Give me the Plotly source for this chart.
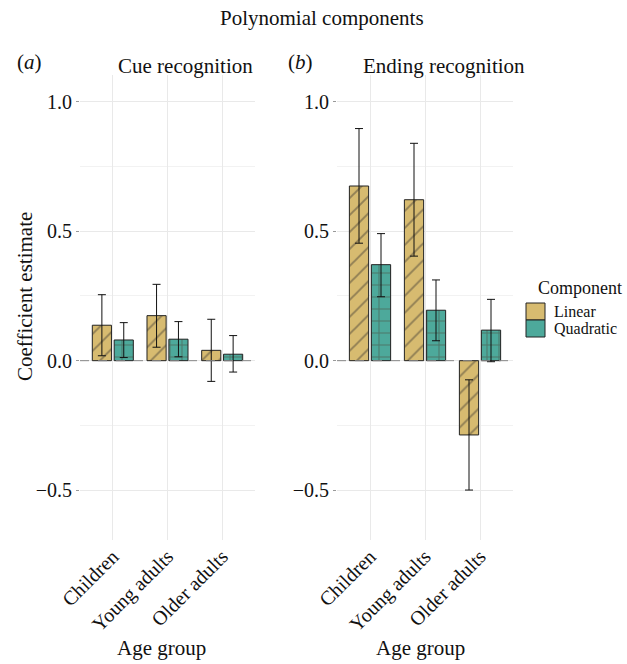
import plotly.graph_objects as go

W, H = 627, 664

age_groups = ["Children", "Young adults", "Older adults"]
components = ["Linear", "Quadratic"]

# Cue recognition (panel a)
cue_linear_est = [0.137, 0.174, 0.040]
cue_linear_lo = [0.019, 0.052, -0.080]
cue_linear_hi = [0.255, 0.295, 0.160]
cue_quad_est = [0.080, 0.083, 0.025]
cue_quad_lo = [0.012, 0.015, -0.044]
cue_quad_hi = [0.147, 0.151, 0.097]

# Ending recognition (panel b)
end_linear_est = [0.675, 0.622, -0.287]
end_linear_lo = [0.454, 0.404, -0.500]
end_linear_hi = [0.897, 0.840, -0.074]
end_quad_est = [0.371, 0.195, 0.118]
end_quad_lo = [0.247, 0.077, -0.004]
end_quad_hi = [0.491, 0.312, 0.237]

y_ticks = [-0.5, 0.0, 0.5, 1.0]
y_tick_text = ["\u22120.5", "0.0", "0.5", "1.0"]

colors = {"Linear": "#D7BB70", "Quadratic": "#4DA99B"}
patterns = {"Linear": "/", "Quadratic": "+"}
FONT = "Liberation Serif"

fig = go.Figure()

panels = [
    ("x", "y", {"Linear": (cue_linear_est, cue_linear_lo, cue_linear_hi),
                "Quadratic": (cue_quad_est, cue_quad_lo, cue_quad_hi)}),
    ("x2", "y2", {"Linear": (end_linear_est, end_linear_lo, end_linear_hi),
                  "Quadratic": (end_quad_est, end_quad_lo, end_quad_hi)}),
]

for xa, ya, data in panels:
    for comp in components:
        est, lo, hi = data[comp]
        fig.add_trace(go.Bar(
            x=age_groups, y=est, xaxis=xa, yaxis=ya,
            name=comp, offsetgroup=comp, showlegend=False,
            marker=dict(color=colors[comp],
                        line=dict(color="#222222", width=1),
                        pattern=dict(shape=patterns[comp], fgcolor="#4a4338",
                                     size=12, solidity=0.16)),
            error_y=dict(type="data", symmetric=False,
                         array=[h - e for h, e in zip(hi, est)],
                         arrayminus=[e - l for e, l in zip(est, lo)],
                         color="#111111", thickness=1, width=4),
        ))

xd1 = [80 / W, 255 / W]
xd2 = [337 / W, 513 / W]
yd = [(H - 540) / H, (H - 75) / H]
yr = [-0.693, 1.104]

axis_common_x = dict(type="category", range=[-0.6, 2.6], tickangle=-45,
                     showgrid=True, gridcolor="#E9E9E9", gridwidth=1,
                     zeroline=False, showline=False, ticks="",
                     tickfont=dict(family=FONT, size=20, color="#111"),
                     automargin=False)
axis_common_y = dict(range=yr, tickvals=y_ticks, ticktext=y_tick_text,
                     showgrid=True, gridcolor="#E9E9E9", gridwidth=1,
                     minor=dict(dtick=0.25, tick0=0, showgrid=True,
                                gridcolor="#F2F2F2", gridwidth=1),
                     zeroline=False, showline=False,
                     ticks="outside", ticklen=3, tickcolor="#999",
                     tickfont=dict(family=FONT, size=20, color="#111"),
                     automargin=False)

fig.update_layout(
    width=W, height=H,
    margin=dict(l=0, r=0, t=0, b=0),
    paper_bgcolor="white", plot_bgcolor="white",
    barmode="group", bargap=0.2, bargroupgap=0.125,
    xaxis=dict(domain=xd1, anchor="y", **axis_common_x),
    yaxis=dict(domain=yd, anchor="x", **axis_common_y),
    xaxis2=dict(domain=xd2, anchor="y2", **axis_common_x),
    yaxis2=dict(domain=yd, anchor="x2", **axis_common_y),
    showlegend=False,
    font=dict(family=FONT, color="#111"),
)

# dashed zero reference lines
for xa, ya in [("x", "y"), ("x2", "y2")]:
    fig.add_shape(type="line", xref=f"{xa} domain", yref=ya, x0=0, x1=1, y0=0, y1=0,
                  line=dict(color="#888888", width=1, dash="dash"), layer="above")

def px(x, y):
    return x / W, 1 - y / H

# manual legend (keys + labels)
legend_title = "Component"
key_x0, key_x1 = 526, 545
key_rows = [(303, 320), (320, 337)]
label_y = [311, 329]
for comp, (ky0, ky1), lyp in zip(components, key_rows, label_y):
    x0, y0 = px(key_x0, ky1)
    x1, y1 = px(key_x1, ky0)
    fig.add_shape(type="rect", xref="paper", yref="paper", x0=x0, x1=x1, y0=y0, y1=y1,
                  fillcolor=colors[comp], line=dict(color="#222222", width=1))
    lx, ly = px(552, lyp)
    fig.add_annotation(text=comp, x=lx, y=ly, xref="paper", yref="paper",
                       showarrow=False, xanchor="left", yanchor="middle",
                       font=dict(family=FONT, size=16, color="#111"))
tx, ty = px(580, 288)
fig.add_annotation(text=legend_title, x=tx, y=ty, xref="paper", yref="paper",
                   showarrow=False, xanchor="center", yanchor="middle",
                   font=dict(family=FONT, size=18, color="#111"))

anns = [
    ("Polynomial components", 322, 18, 21, 0),
    ("(<i>a</i>)", 29, 62, 21, 0),
    ("(<i>b</i>)", 300, 62, 21, 0),
    ("Cue recognition", 185, 66, 21, 0),
    ("Ending recognition", 444, 66, 21, 0),
    ("Age group", 161, 648, 21, 0),
    ("Age group", 420, 648, 21, 0),
    ("Coefficient estimate", 25, 297, 21, -90),
]
for text, x, y, size, ang in anns:
    ax, ay = px(x, y)
    fig.add_annotation(text=text, x=ax, y=ay, xref="paper", yref="paper",
                       showarrow=False, xanchor="center", yanchor="middle",
                       textangle=ang, font=dict(family=FONT, size=size, color="#111"))

fig.write_html("out.html", config={"displayModeBar": False},
               post_script="document.body.style.margin='0';document.body.style.overflow='hidden';")
